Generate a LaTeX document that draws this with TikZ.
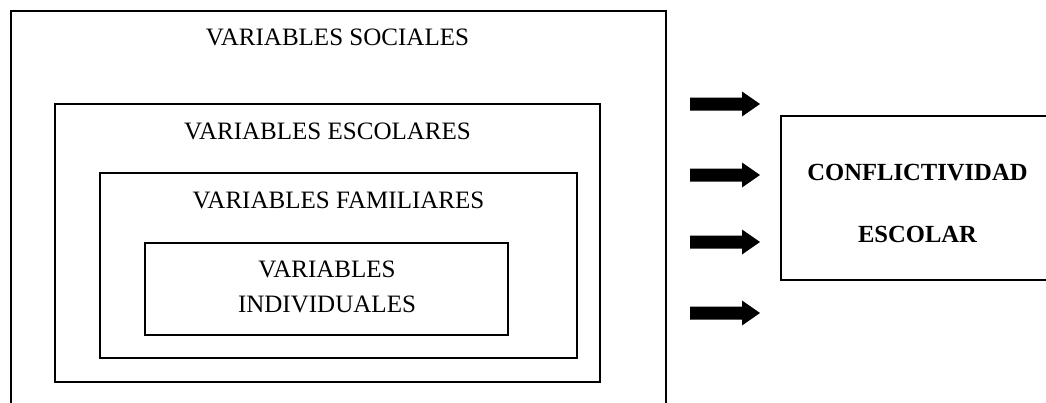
\documentclass[tikz,border=0pt]{standalone}
\usepackage{fontspec}
\setmainfont{Liberation Serif}
\usetikzlibrary{positioning}

\tikzset{
  frame/.style={draw=black, line width=1.5pt},
  vartext/.style={anchor=base, font=\fontsize{17.8}{20}\selectfont},
  outtext/.style={anchor=base, font=\fontsize{17.5}{20}\selectfont\bfseries}
}

\begin{document}
\begin{tikzpicture}[x=0.025cm, y=-0.025cm]
  \useasboundingbox (0,0) rectangle (1046,402);
  \fill[white] (0,0) rectangle (1046,402);
  \clip (0,0) rectangle (1046,402);

  % Nested variable frames
  \draw[frame, line width=1.7pt] (11,11) rectangle (666,410);
  \node[vartext] (sociales) at (337.5,45) {VARIABLES SOCIALES};

  \draw[frame] (55,104) rectangle (600,382);
  \node[vartext] (escolares) at (327.5,139) {VARIABLES ESCOLARES};

  \draw[frame] (100,173) rectangle (577,358);
  \node[vartext] (familiares) at (338.5,208) {VARIABLES FAMILIARES};

  \draw[frame] (145,243) rectangle (508,335);
  \node[vartext] (individuales) at (327,277) {VARIABLES};
  \node[vartext] (individuales2) at (327,312) {INDIVIDUALES};

  % Block arrows
  \foreach \ya in {104,175,242,313}
    \fill[black] (690,\ya-6.5) -- (742,\ya-6.5) -- (742,\ya-12.5) -- (760,\ya)
      -- (742,\ya+12.5) -- (742,\ya+6.5) -- (690,\ya+6.5) -- cycle;

  % Outcome frame
  \draw[frame] (781,116) rectangle (1060,280);
  \node[outtext] (conflictividad) at (917.5,180) {CONFLICTIVIDAD};
  \node[outtext] (escolar) at (917.5,242) {ESCOLAR};
\end{tikzpicture}
\end{document}
